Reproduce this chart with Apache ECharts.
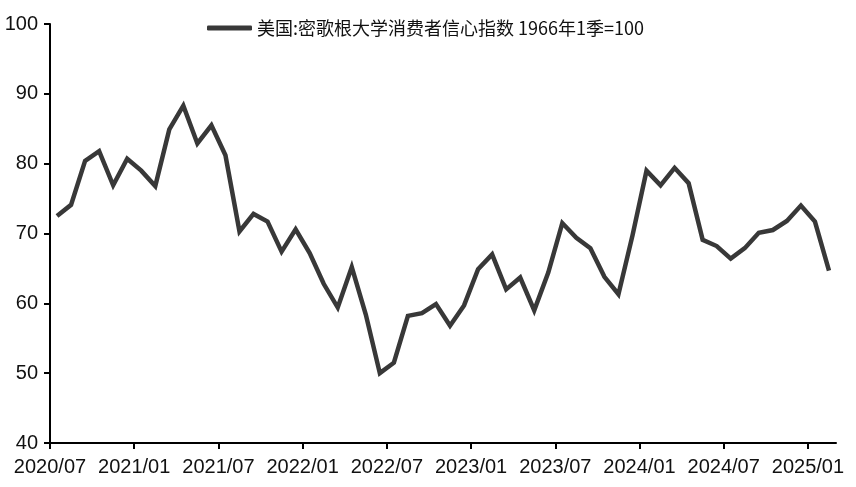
<!DOCTYPE html>
<html>
<head>
<meta charset="utf-8">
<script src="https://cdn.jsdelivr.net/npm/echarts@6/dist/echarts.min.js"></script>
<style>html,body{margin:0;padding:0;background:#fff}#c{width:856px;height:487px}</style>
</head>
<body>
<div id="c"></div>
<script>
// Monthly periods, 2020/07 .. 2025/02
const months = [
  '2020/07','2020/08','2020/09','2020/10','2020/11','2020/12',
  '2021/01','2021/02','2021/03','2021/04','2021/05','2021/06',
  '2021/07','2021/08','2021/09','2021/10','2021/11','2021/12',
  '2022/01','2022/02','2022/03','2022/04','2022/05','2022/06',
  '2022/07','2022/08','2022/09','2022/10','2022/11','2022/12',
  '2023/01','2023/02','2023/03','2023/04','2023/05','2023/06',
  '2023/07','2023/08','2023/09','2023/10','2023/11','2023/12',
  '2024/01','2024/02','2024/03','2024/04','2024/05','2024/06',
  '2024/07','2024/08','2024/09','2024/10','2024/11','2024/12',
  '2025/01','2025/02'
];
const sentiment = [
  72.5, 74.1, 80.4, 81.8, 76.9, 80.7,
  79.0, 76.8, 84.9, 88.3, 82.9, 85.5,
  81.2, 70.3, 72.8, 71.7, 67.4, 70.6,
  67.2, 62.8, 59.4, 65.2, 58.4, 50.0,
  51.5, 58.2, 58.6, 59.9, 56.8, 59.7,
  64.9, 67.0, 62.0, 63.7, 59.0, 64.4,
  71.5, 69.4, 67.9, 63.8, 61.3, 69.7,
  79.0, 76.9, 79.4, 77.2, 69.1, 68.2,
  66.4, 67.9, 70.1, 70.5, 71.8, 74.0,
  71.7, 64.7
];
const tickIdx = [0, 6, 12, 18, 24, 30, 36, 42, 48, 54];
const yTicks = [40, 50, 60, 70, 80, 90, 100];
const seriesName = '美国:密歌根大学消费者信心指数 1966年1季=100';

const FONT = "'Liberation Sans Narrow', 'Liberation Sans', Arial, sans-serif";
const chart = echarts.init(document.getElementById('c'));
chart.setOption({
  animation: false,
  backgroundColor: '#fff',
  legend: {
    left: 202, top: 14,
    itemWidth: 45, itemHeight: 5, itemGap: 10,
    icon: 'roundRect',
    textStyle: { fontFamily: "'Liberation Sans Narrow', 'Noto Sans CJK SC', sans-serif", fontSize: 18, color: '#111' },
    data: [seriesName]
  },
  grid: { left: 50, right: 20, top: 24, bottom: 44 },
  xAxis: {
    type: 'value', min: 0, max: months.length,
    splitLine: { show: false },
    axisLine: { lineStyle: { color: '#000', width: 2 } },
    axisTick: { length: 6, lineStyle: { color: '#000', width: 2 }, customValues: tickIdx },
    axisLabel: {
      customValues: tickIdx,
      formatter: v => months[v],
      color: '#111', fontSize: 20, fontFamily: FONT, margin: 14
    }
  },
  yAxis: {
    type: 'value', min: yTicks[0], max: yTicks[yTicks.length - 1], interval: 10,
    splitLine: { show: false },
    axisLine: { show: true, lineStyle: { color: '#000', width: 2 } },
    axisTick: { show: true, length: 6, lineStyle: { color: '#000', width: 2 } },
    axisLabel: { color: '#111', fontSize: 20, fontFamily: FONT, margin: 12 }
  },
  series: [{
    name: seriesName,
    type: 'line',
    data: sentiment.map((v, i) => [i + 0.5, v]),
    showSymbol: false,
    lineStyle: { color: '#383838', width: 4.5, join: 'miter' },
    itemStyle: { color: '#383838' }
  }]
});
</script>
</body>
</html>
